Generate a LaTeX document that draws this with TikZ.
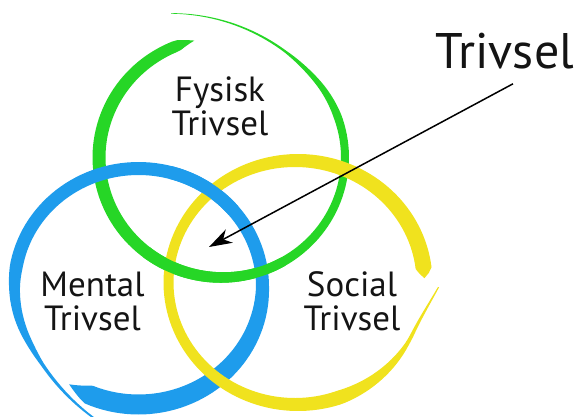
\documentclass[tikz,border=0pt]{standalone}
\usepackage{fontspec}
\setmainfont{PT Sans}
\usetikzlibrary{arrows.meta}
\definecolor{ringgreen}{RGB}{38,214,38}
\definecolor{ringblue}{RGB}{30,156,236}
\definecolor{ringyellow}{RGB}{240,226,30}
\definecolor{ink}{RGB}{20,20,20}
\tikzstyle{arrow} = [line width=1.5pt, -{Stealth[length=23pt,width=15pt,inset=7pt]}]
\tikzstyle{ringtext} = [align=center, inner sep=0pt, text=ink, font=\fontsize{35}{34}\selectfont]
\tikzstyle{toptext} = [anchor=base, inner xsep=2pt, inner ysep=15pt, text=ink, font=\fontsize{50}{50}\selectfont]

% brush ring: colour, centre x, centre y, rx, ry, from, to, prefix of its width/growth functions
\newcommand{\band}[8]{%
  \fill[#1] plot[domain=#6:#7, samples=150, variable=\t]
    ({#2+(#4*#8g(\t)+#8w(\t)/2)*cos(\t)}, {#3+(#5*#8g(\t)+#8w(\t)/2)*sin(\t)})
    -- plot[domain=#7:#6, samples=150, variable=\t]
    ({#2+(#4*#8g(\t)-#8w(\t)/2)*cos(\t)}, {#3+(#5*#8g(\t)-#8w(\t)/2)*sin(\t)}) -- cycle;}

\begin{document}
\begin{tikzpicture}[x=1pt, y=1pt,
  declare function={
    grw(\a) = (10.5-2.5*cos(\a))*min(1,(\a-103)/8)*min(1,max(0.25-0.2*(\a-420)/49, 1-0.75*(\a-380)/40));
    grg(\a) = 1+0.27*(max(0,\a-400)/69)^2;
    blw(\a) = (13+7*max(0,-sin(\a)))*min(1,(\a-236)/10)*min(1,max(0.2-0.15*(\a-580)/45, 1-0.8*(\a-530)/50));
    blg(\a) = 1+0.15*(max(0,\a-565)/44)^2;
    yew(\a) = (13+3*cos(\a))*min(1,(\a-2)/4)*min(1,max(0.25-0.17*(\a-330)/28, 1-0.75*(\a-290)/40));
    yeg(\a) = 1+0.11*(max(0,\a-335)/23)^2;
  }]
  \clip (0,0) rectangle (578,416);

  % the three rings, woven
  \band{ringgreen}{222}{258.5}{123}{120}{103}{469}{gr}
  \band{ringblue}{138.5}{129.5}{124}{118}{236}{625}{bl}
  \band{ringyellow}{296.5}{133.5}{128}{122}{2}{358}{ye}
  \band{ringgreen}{222}{258.5}{123}{120}{232}{300}{gr}
  \band{ringblue}{138.5}{129.5}{124}{118}{400}{435}{bl}

  % labels
  \node[ringtext] (fysisk) at (220,309.5) {Fysisk\\Trivsel};
  \node[ringtext] (mental) at (92.5,114.5) {Mental\\Trivsel};
  \node[ringtext] (social) at (352,114.5) {Social\\Trivsel};
  \node[toptext] (trivsel) at (505,348) {Trivsel};

  \coordinate (centre) at (209,169);
  \draw[arrow] ([xshift=8pt]trivsel.south) -- (centre);
\end{tikzpicture}
\end{document}
